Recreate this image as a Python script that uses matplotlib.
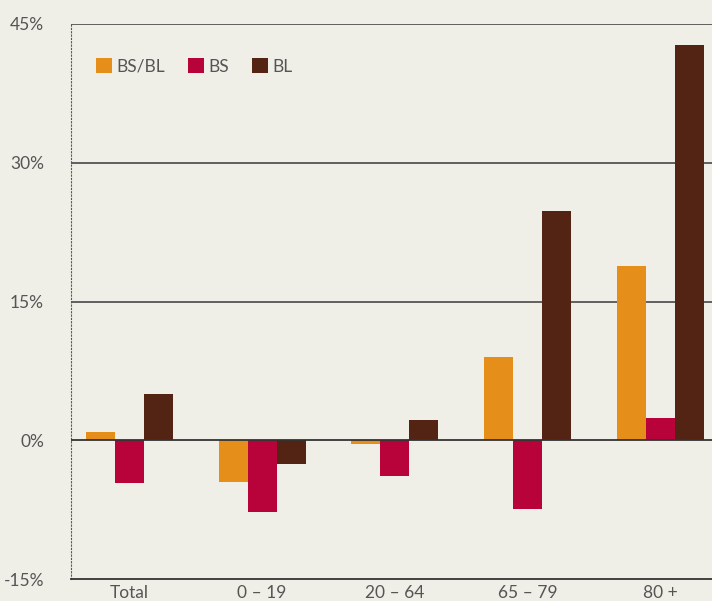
import matplotlib.pyplot as plt
import numpy as np

# data (percent change)
groups = ["Total", "0 – 19", "20 – 64", "65 – 79", "80 +"]
bs_bl = [0.9, -4.5, -0.4, 9.0, 18.8]
bs = [-4.6, -7.8, -3.9, -7.4, 2.4]
bl = [5.0, -2.6, 2.2, 24.8, 42.7]

series = [("BS/BL", bs_bl, "#e68e1a"), ("BS", bs, "#b7033a"), ("BL", bl, "#532414")]
bg = "#efeee7"

plt.rcParams['font.family'] = ['Lato', 'DejaVu Sans']

fig = plt.figure(figsize=(7.12, 6.01), dpi=100, facecolor=bg)
ax = fig.add_axes([71 / 712, 22 / 601, 1 - 71 / 712, 555 / 601])
ax.set_facecolor(bg)

x = np.arange(len(groups))
w = 0.2185
for i, (name, vals, col) in enumerate(series):
    ax.bar(x + (i - 1) * w, vals, w, color=col, label=name, zorder=2)

ax.set_xlim(-0.44, 4.39)
ax.set_ylim(-15, 45)
ax.set_yticks([-15, 0, 15, 30, 45])
ax.set_yticklabels(["-15%", "0%", "15%", "30%", "45%"])
ax.set_xticks(x)
ax.set_xticklabels(groups)
ax.tick_params(length=0, labelsize=12.5, labelcolor="#555555")
ax.tick_params(axis="y", pad=19.5)
ax.tick_params(axis="x", pad=4)

for yv in [15, 30, 45]:
    ax.axhline(yv, color="#555555", lw=1.3, zorder=1)
ax.axhline(0, color="#333333", lw=1.3, zorder=3)

for s in ["top", "right"]:
    ax.spines[s].set_visible(False)
ax.spines["bottom"].set_color("#333333")
ax.spines["bottom"].set_linewidth(1.3)
ax.spines["left"].set_linestyle((0, (1, 2)))
ax.spines["left"].set_color("#555555")
ax.spines["left"].set_linewidth(0.8)

ax.legend(loc="upper left", bbox_to_anchor=(0.015, 0.966), ncol=3, frameon=False,
          handlelength=0.92, handleheight=0.92, handletextpad=0.23, columnspacing=1.35,
          fontsize=12.5, labelcolor="#555555")

fig.savefig("out.png", dpi=100, facecolor=bg)
